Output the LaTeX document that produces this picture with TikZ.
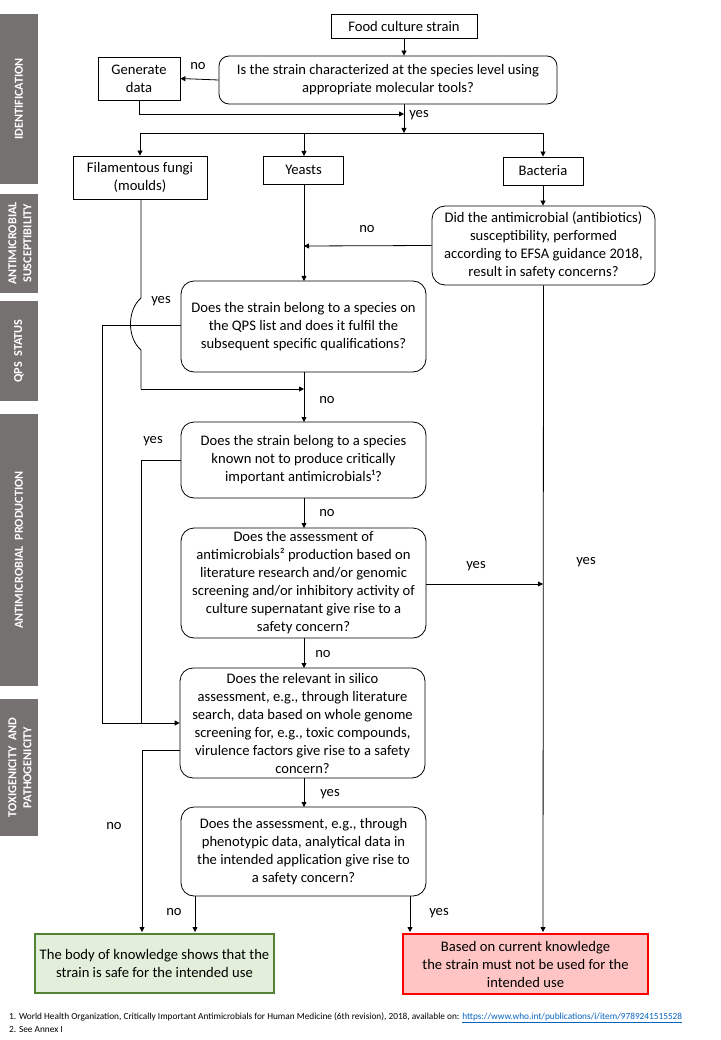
\documentclass[tikz,border=0pt]{standalone}
\usepackage{fontspec}
\setmainfont{Carlito}
\usetikzlibrary{arrows.meta}
\definecolor{bargrey}{HTML}{767171}
\definecolor{okgreen}{HTML}{548235}
\definecolor{okfill}{HTML}{E2EFDA}
\definecolor{badfill}{HTML}{FFC5C5}
\definecolor{linkblue}{HTML}{0563C1}
\tikzset{
  box/.style={draw=black, line width=0.8pt, inner sep=0pt, align=center, font=\fontsize{14.6}{18}\selectfont},
  qbox/.style={box, rounded corners=13pt},
  lbl/.style={inner sep=0pt, font=\fontsize{14.6}{16}\selectfont},
  bar/.style={fill=bargrey, draw=none},
  bartxt/.style={text=white, font=\fontsize{12.2}{15}\selectfont\bfseries, rotate=90, align=center, inner sep=0pt},
  arr/.style={line width=0.8pt, -{Triangle[length=5pt,width=5pt]}},
  ln/.style={line width=0.8pt},
}
\begin{document}
\begin{tikzpicture}[x=1pt,y=-1pt]
\useasboundingbox (0,0) rectangle (720,1040);
% side bars
\fill[bar] (0,14) rectangle (38,184);
\fill[bar] (0,194) rectangle (38,293);
\fill[bar] (0,301) rectangle (38,401);
\fill[bar] (0,414) rectangle (38,686);
\fill[bar] (0,699) rectangle (38,836);
\node[bartxt] (b1) at (19,99) {IDENTIFICATION};
\node[bartxt] (b2) at (20,243.5) {ANTIMICROBIAL\\SUSCEPTIBILITY};
\node[bartxt] (b3) at (19,351) {QPS\ \ STATUS};
\node[bartxt] (b4) at (19,550) {ANTIMICROBIAL\ \ PRODUCTION};
\node[bartxt] (b5) at (20,767.5) {TOXIGENICITY\ \ AND\\PATHOGENICITY};

% nodes
\node[box, minimum width=146pt, minimum height=24pt] (fcs) at (404,26) {Food culture strain};
\node[qbox, rounded corners=10pt, minimum width=338pt, minimum height=48pt] (q1) at (388,80) {Is the strain characterized at the species level using\\appropriate molecular tools?};
\node[box, minimum width=82pt, minimum height=43pt] (gen) at (139,78.5) {Generate\\data};
\node[box, minimum width=134pt, minimum height=43pt] (mould) at (140,177.5) {Filamentous fungi\\(moulds)};
\node[box, minimum width=80pt, minimum height=28pt] (yeast) at (303.5,170) {Yeasts};
\node[box, minimum width=80pt, minimum height=28pt] (bact) at (543,171) {Bacteria};
\node[qbox, minimum width=223pt, minimum height=79pt] (q2) at (543.5,245.5) {Did the antimicrobial (antibiotics)\\susceptibility, performed\\according to EFSA guidance 2018,\\result in safety concerns?};
\node[qbox, minimum width=245pt, minimum height=91pt] (qps) at (303.5,326.5) {Does the strain belong to a species on\\the QPS list and does it fulfil the\\subsequent specific qualifications?};
\node[qbox, minimum width=245pt, minimum height=76pt] (q3) at (303.5,460) {Does the strain belong to a species\\known not to produce critically\\important antimicrobials¹?};
\node[qbox, minimum width=245pt, minimum height=110pt] (q4) at (303.5,583) {Does the assessment of\\antimicrobials² production based on\\literature research and/or genomic\\screening and/or inhibitory activity of\\culture supernatant give rise to a\\safety concern?};
\node[qbox, minimum width=245pt, minimum height=110pt] (q5) at (302.5,723) {Does the relevant in silico\\assessment, e.g., through literature\\search, data based on whole genome\\screening for, e.g., toxic compounds,\\virulence factors give rise to a safety\\concern?};
\node[qbox, minimum width=245pt, minimum height=89pt] (q6) at (303.5,851.5) {Does the assessment, e.g., through\\phenotypic data, analytical data in\\the intended application give rise to\\a safety concern?};
\node[box, draw=okgreen, fill=okfill, line width=2.6pt, minimum width=239pt, minimum height=59pt] (safe) at (154.5,963.5) {The body of knowledge shows that the\\strain is safe for the intended use};
\node[box, draw=red, fill=badfill, line width=2.6pt, minimum width=245pt, minimum height=60pt] (unsafe) at (525.5,964) {Based on current knowledge\\the strain must not be used for the\\intended use};

% labels
\node[lbl] (l1) at (198,66) {no};
\node[lbl] (l2) at (419,115) {yes};
\node[lbl] (l3) at (367,229) {no};
\node[lbl] (l4) at (161,301) {yes};
\node[lbl] (l5) at (327,400) {no};
\node[lbl] (l6) at (153,441) {yes};
\node[lbl] (l7) at (327,513) {no};
\node[lbl] (l8) at (476,566) {yes};
\node[lbl] (l9) at (586,562) {yes};
\node[lbl] (l10) at (323,654) {no};
\node[lbl] (l11) at (330,794) {yes};
\node[lbl] (l12) at (114,826) {no};
\node[lbl] (l13) at (174,912) {no};
\node[lbl] (l14) at (439,913) {yes};

% coordinates
\coordinate (j0) at (404,114);
\coordinate (br) at (404,133);
\coordinate (cq2) at (304,246);
\coordinate (hopA) at (141,298);
\coordinate (hopB) at (141,350);
\coordinate (m1) at (141,389);
\coordinate (m2) at (304,389);
\coordinate (k1) at (102,325);
\coordinate (k2) at (102,723);
\coordinate (y3) at (141,460);
\coordinate (y3b) at (141,723);
\coordinate (n5) at (142,750);
\coordinate (n5b) at (142,932);
\coordinate (c4) at (543,584);

% connectors
\draw[arr] (fcs.south) -- (fcs.south |- q1.north);
\draw[arr] (q1.west) -- (gen.east);
\draw[arr] (gen.south) |- (j0);
\draw[arr] (q1.south -| br) -- (br);
\draw[arr] (br) -| (mould.north);
\draw[arr] (br) -| (bact.north);
\draw[arr] (br -| 304,0) -- (304,156);
\draw[arr] (bact.south) -- (bact.south |- q2.north);
\draw[arr] (q2.west) -- (cq2);
\draw[arr] (304,184) -- (304,281);
\draw[ln] (mould.south -| hopA) -- (hopA) .. controls (127,310) and (127,338) .. (hopB) -- (m1);
\draw[arr] (m1) -- (m2);
\draw[arr] (304,372) -- (304,422);
\draw[ln] (qps.west |- k1) -- (k1) -- (k2);
\draw[arr] (k2) -- (q5.west |- k2);
\draw[ln] (q3.west) -- (y3) -- (y3b);
\draw[arr] (304,498) -- (304,528);
\draw[arr] (q4.east |- c4) -- (c4);
\draw[arr] (304,638) -- (304,668);
\draw[arr] (304,778) -- (304,807);
\draw[ln] (q5.west |- n5) -- (n5);
\draw[arr] (n5) -- (n5b);
\draw[arr] (195,896) -- (195,932);
\draw[arr] (410,896) -- (410,932);
\draw[arr] (q2.south) -- (543,932);

% footnotes
\node[anchor=base west, inner sep=0pt, font=\fontsize{9.3}{11}\selectfont] (fn1) at (9,1019) {1. World Health Organization, Critically Important Antimicrobials for Human Medicine (6th revision), 2018, available on: \textcolor{linkblue}{\underline{https://www.who.int/publications/i/item/9789241515528}}};
\node[anchor=base west, inner sep=0pt, font=\fontsize{9.3}{11}\selectfont] (fn2) at (9,1032) {2. See Annex I};
\end{tikzpicture}
\end{document}
